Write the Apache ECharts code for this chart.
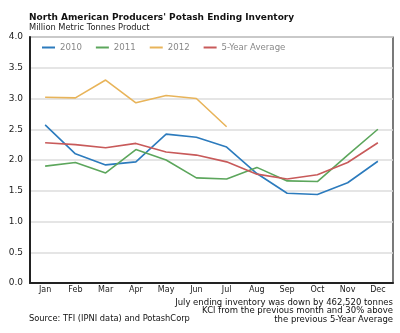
<!DOCTYPE html>
<html>
<head>
<meta charset="utf-8">
<script src="https://cdn.jsdelivr.net/npm/echarts@6/dist/echarts.min.js"></script>
<style>
html,body{margin:0;padding:0;background:#fff;}
#chart{width:400px;height:333px;}
</style>
</head>
<body>
<div id="chart"></div>
<script>
// Monthly ending inventory, million metric tonnes product
const months = ['Jan','Feb','Mar','Apr','May','Jun','Jul','Aug','Sep','Oct','Nov','Dec'];
const inv2010 = [2.57, 2.10, 1.92, 1.97, 2.42, 2.37, 2.21, 1.78, 1.46, 1.44, 1.63, 1.98];
const inv2011 = [1.90, 1.96, 1.79, 2.17, 2.00, 1.71, 1.69, 1.88, 1.66, 1.65, 2.08, 2.50];
const inv2012 = [3.02, 3.01, 3.30, 2.93, 3.05, 3.00, 2.54];
const avg5yr  = [2.28, 2.25, 2.20, 2.27, 2.13, 2.08, 1.97, 1.77, 1.69, 1.76, 1.96, 2.28];
const yTicks = ['0.0','0.5','1.0','1.5','2.0','2.5','3.0','3.5','4.0'];

const FONT = 'DejaVu Sans';
const chart = echarts.init(document.getElementById('chart'), null, {renderer: 'canvas'});

function line(name, data, color) {
  return {
    name, type: 'line', data, symbol: 'none', smooth: false,
    lineStyle: {color, width: 1.6}, itemStyle: {color}, z: 3
  };
}

chart.setOption({
  animation: false,
  textStyle: {fontFamily: FONT},
  title: [
    {text: "North American Producers' Potash Ending Inventory", left: 24, top: 8,
     textStyle: {fontFamily: FONT, fontSize: 9, fontWeight: 'bold', color: '#111'}},
    {text: 'Million Metric Tonnes Product', left: 24, top: 19,
     textStyle: {fontFamily: FONT, fontSize: 8.3, fontWeight: 'normal', color: '#222'}}
  ],
  legend: {
    left: 37, top: 38, itemWidth: 13, itemHeight: 2, itemGap: 14,
    icon: 'rect',
    textStyle: {fontFamily: FONT, fontSize: 8.6, color: '#888'},
    data: ['2010','2011','2012','5-Year Average']
  },
  grid: {left: 30, right: 7, top: 37, bottom: 50, containLabel: false,
         show: true, borderColor: '#222', borderWidth: 1.2},
  xAxis: {
    type: 'category', data: months, boundaryGap: true,
    axisLine: {lineStyle: {color: '#222', width: 2}},
    axisTick: {inside: true, length: 3, alignWithLabel: true, lineStyle: {color: '#222'}},
    axisLabel: {fontFamily: FONT, fontSize: 8, color: '#222', margin: 3}
  },
  yAxis: {
    type: 'value', min: 0, max: 4, interval: 0.5,
    axisLine: {show: true, lineStyle: {color: '#222', width: 2}},
    axisTick: {show: false},
    splitLine: {lineStyle: {color: '#ddd', width: 1.5}},
    axisLabel: {fontFamily: FONT, fontSize: 9, color: '#222', margin: 7,
      formatter: v => yTicks[Math.round(v * 2)]}
  },
  graphic: [
    {type: 'text', right: 7, top: 298, style: {
      text: 'July ending inventory was down by 462,520 tonnes\nKCl from the previous month and 30% above\nthe previous 5-Year Average',
      font: '8.5px "DejaVu Sans"', fill: '#111', textAlign: 'right', lineHeight: 8.7}},
    {type: 'text', left: 29, top: 315, style: {
      text: 'Source: TFI (IPNI data) and PotashCorp',
      font: '8.3px "DejaVu Sans"', fill: '#111'}}
  ],
  series: [
    line('2010', inv2010, '#2c7bbd'),
    line('2011', inv2011, '#5ca65c'),
    line('2012', inv2012, '#e8b45a'),
    line('5-Year Average', avg5yr, '#c85a5a')
  ]
});
</script>
</body>
</html>
